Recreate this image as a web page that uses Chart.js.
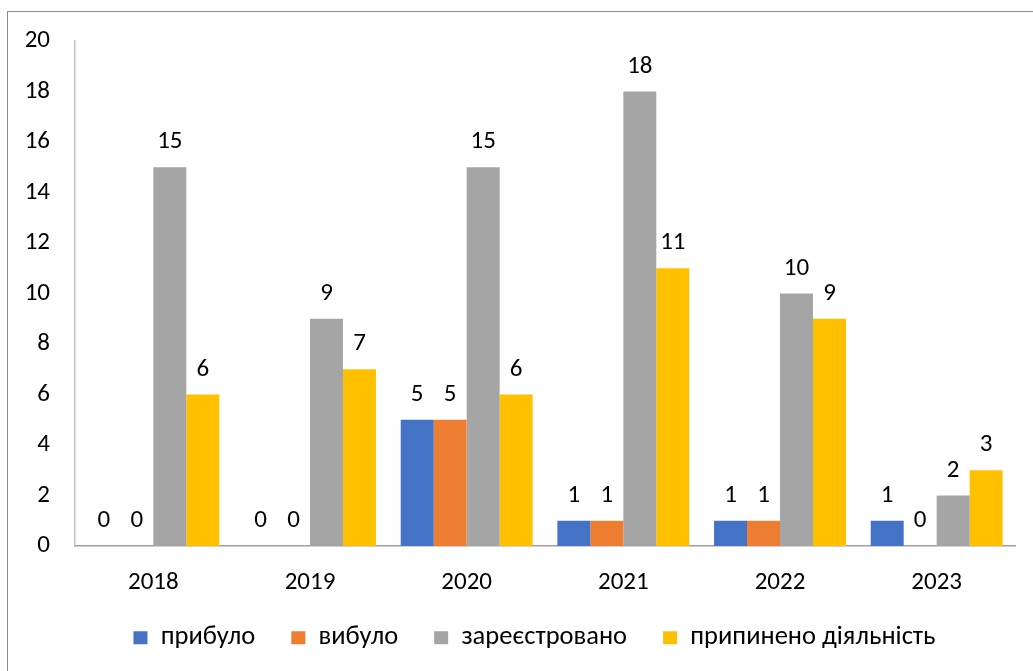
<!DOCTYPE html>
<html>
<head>
<meta charset="utf-8">
<script src="https://cdn.jsdelivr.net/npm/chart.js@4"></script>
<style>
  html, body { margin: 0; padding: 0; background: #fff; overflow: hidden; }
  #frame {
    position: absolute; left: 7px; top: 11px;
    width: 1100px; height: 720px;
    border: 1.5px solid #8c8c8c;
  }
  #wrap { position: absolute; left: 0; top: 0; width: 1033px; height: 671px; }
</style>
</head>
<body>
<div id="frame"></div>
<div id="wrap"><canvas id="chart" width="1033" height="671"></canvas></div>
<script>
// chart data
const years = ['2018', '2019', '2020', '2021', '2022', '2023'];
const arrived = [0, 0, 5, 1, 1, 1];
const left = [0, 0, 5, 1, 1, 0];
const registered = [15, 9, 15, 18, 10, 2];
const stopped = [6, 7, 6, 11, 9, 3];
const seriesNames = ['прибуло', 'вибуло', 'зареєстровано', 'припинено діяльність'];
const yTicks = [0, 2, 4, 6, 8, 10, 12, 14, 16, 18, 20];

const fontFamily = "Carlito, 'Noto Sans', sans-serif";

// draws the value above each bar
const valueLabels = {
    id: 'valueLabels',
    afterDatasetsDraw(chart) {
        const ctx = chart.ctx;
        ctx.save();
        ctx.font = '25px ' + fontFamily;
        ctx.fillStyle = '#000';
        ctx.textAlign = 'center';
        ctx.textBaseline = 'alphabetic';
        chart.data.datasets.forEach((ds, i) => {
            const meta = chart.getDatasetMeta(i);
            meta.data.forEach((bar, j) => {
                ctx.fillText(String(ds.data[j]), bar.x, bar.y - 19);
            });
        });
        ctx.restore();
    }
};

// nudge the legend a bit, like in the original
const legendShift = {
    id: 'legendShift',
    afterLayout(chart) {
        const lg = chart.legend;
        if (!lg) return;
        lg.top -= 6;
        lg.bottom -= 6;
        lg.left += 27;
        lg.right += 27;
    }
};

const ctx = document.getElementById('chart').getContext('2d');
const chart = new Chart(ctx, {
    type: 'bar',
    data: {
        labels: years,
        datasets: [
            { label: seriesNames[0], data: arrived, backgroundColor: '#4472C4' },
            { label: seriesNames[1], data: left, backgroundColor: '#ED7D31' },
            { label: seriesNames[2], data: registered, backgroundColor: '#A5A5A5' },
            { label: seriesNames[3], data: stopped, backgroundColor: '#FFC000' }
        ]
    },
    options: {
        responsive: false,
        animation: false,
        datasets: {
            bar: { categoryPercentage: 0.842, barPercentage: 1 }
        },
        layout: {
            padding: { left: 0, top: 41, right: 18, bottom: 4 }
        },
        plugins: {
            tooltip: { enabled: false },
            legend: {
                position: 'bottom',
                labels: {
                    font: { family: fontFamily, size: 26.5 },
                    color: '#000',
                    boxWidth: 14,
                    boxHeight: 13,
                    padding: 36
                }
            }
        },
        scales: {
            x: {
                grid: { display: false, drawTicks: false },
                border: { color: '#a0a0a0', width: 1.5 },
                ticks: {
                    font: { family: fontFamily, size: 25 },
                    color: '#000',
                    padding: 22
                },
                afterFit(scale) { scale.height = 48.5; }
            },
            y: {
                min: 0,
                max: 20,
                grid: { display: false, drawTicks: false },
                border: { color: '#bfbfbf', width: 1.5 },
                afterBuildTicks(scale) {
                    scale.ticks = yTicks.map(v => ({ value: v }));
                },
                ticks: {
                    font: { family: fontFamily, size: 25 },
                    color: '#000',
                    padding: 25
                },
                afterFit(scale) { scale.width = 75; }
            }
        }
    },
    plugins: [valueLabels, legendShift]
});
</script>
</body>
</html>
